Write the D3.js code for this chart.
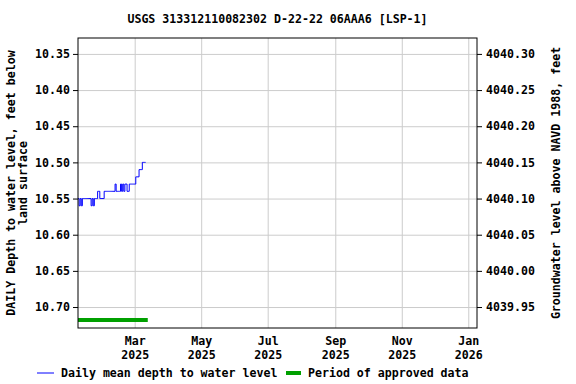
<!DOCTYPE html>
<html>
<head>
<meta charset="utf-8">
<script src="https://cdn.jsdelivr.net/npm/d3@7"></script>
<style>
  body { margin: 0; background: #fff; }
  text { font-family: "DejaVu Sans Mono", monospace; font-weight: bold; font-size: 11.6px; fill: #000; }
  .grid line { stroke: #cccccc; stroke-width: 1; }
  .grid path { display: none; }
</style>
</head>
<body>
<script>
const title = 'USGS 313312110082302 D-22-22 06AAA6 [LSP-1]'

// daily mean depth to water, ft below land surface, starting 2025-01-08
const startDate = '2025-01-08'
const depth = [
  10.55, 10.56, 10.55, 10.56, 10.55, 10.55, 10.55, 10.55, 10.55, 10.55,
  10.55, 10.55, 10.56, 10.55, 10.56, 10.55, 10.55, 10.55, 10.54, 10.54,
  10.55, 10.55, 10.55, 10.55, 10.54, 10.54, 10.54, 10.54, 10.54, 10.54,
  10.54, 10.54, 10.54, 10.54, 10.53, 10.54, 10.54, 10.54, 10.54, 10.53,
  10.54, 10.53, 10.54, 10.53, 10.53, 10.54, 10.54, 10.53, 10.53, 10.53,
  10.53, 10.53, 10.53, 10.52, 10.52, 10.52, 10.51, 10.51, 10.51, 10.50,
  10.50, 10.50, 10.50
]
const approved = ['2025-01-08', '2025-03-13']

const yTicks = [10.35, 10.40, 10.45, 10.50, 10.55, 10.60, 10.65, 10.70]
const datum = 4050.65
const xTicks = ['2025-03-01', '2025-05-01', '2025-07-01', '2025-09-01', '2025-11-01', '2026-01-01']

const margin = { top: 38, right: 99, bottom: 56, left: 78 }
const W = 576, H = 384
const width = W - margin.left - margin.right
const height = H - margin.top - margin.bottom

const parse = d3.utcParse('%Y-%m-%d')
const t0 = parse(startDate)
const data = depth.map((v, i) => ({ date: d3.utcDay.offset(t0, i), value: v }))

const svg = d3.select('body').append('svg')
  .attr('width', W)
  .attr('height', H)

const g = svg.append('g')
  .attr('transform', `translate(${margin.left},${margin.top})`)

const x = d3.scaleUtc()
  .domain([parse('2025-01-08'), parse('2026-01-09')])
  .range([0, width])

const y = d3.scaleLinear()
  .domain([10.328, 10.729])
  .range([0, height])

// grid
g.append('g').attr('class', 'grid')
  .call(d3.axisBottom(x).tickValues(xTicks.map(parse)).tickSize(height).tickFormat(''))
g.append('g').attr('class', 'grid')
  .call(d3.axisLeft(y).tickValues(yTicks).tickSize(-width).tickFormat(''))

// left axis
const yAxis = g.append('g')
  .call(d3.axisLeft(y).tickValues(yTicks).tickSize(5).tickFormat(d3.format('.2f')))
yAxis.select('.domain').remove()
yAxis.selectAll('text').attr('x', -8)

// right axis
const yRight = g.append('g')
  .attr('transform', `translate(${width},0)`)
  .call(d3.axisRight(y).tickValues(yTicks).tickSize(5).tickFormat(d => (datum - d).toFixed(2)))
yRight.select('.domain').remove()
yRight.selectAll('text').attr('x', 9)

// bottom axis
const xAxis = g.append('g')
  .attr('transform', `translate(0,${height})`)
  .call(d3.axisBottom(x).tickValues(xTicks.map(parse)).tickSize(0).tickFormat(''))
xAxis.select('.domain').remove()
xAxis.selectAll('.tick').each(function (d) {
  const t = d3.select(this).append('text').attr('text-anchor', 'middle')
  t.append('tspan').attr('x', 0).attr('y', 17).text(d3.utcFormat('%b')(d))
  t.append('tspan').attr('x', 0).attr('y', 31).text(d3.utcFormat('%Y')(d))
})

// approved period bar
g.append('line')
  .attr('x1', x(parse(approved[0])))
  .attr('x2', x(parse(approved[1])))
  .attr('y1', height - 8)
  .attr('y2', height - 8)
  .attr('stroke', '#00a000')
  .attr('stroke-width', 4)

// data line
g.append('path')
  .datum(data)
  .attr('fill', 'none')
  .attr('stroke', '#0000ff')
  .attr('stroke-width', 1)
  .attr('d', d3.line().curve(d3.curveStepAfter).x(d => x(d.date)).y(d => y(d.value)))

// frame
g.append('rect')
  .attr('width', width)
  .attr('height', height)
  .attr('fill', 'none')
  .attr('stroke', '#000')

// title
svg.append('text')
  .attr('x', margin.left + width / 2)
  .attr('y', 23)
  .attr('text-anchor', 'middle')
  .text(title)

// axis titles
const ly = margin.top + height / 2
svg.append('text')
  .attr('transform', `translate(15,${ly}) rotate(-90)`)
  .attr('text-anchor', 'middle')
  .text('DAILY Depth to water level, feet below')
svg.append('text')
  .attr('transform', `translate(27,${ly}) rotate(-90)`)
  .attr('text-anchor', 'middle')
  .text('land surface')
svg.append('text')
  .attr('transform', `translate(560,${ly}) rotate(-90)`)
  .attr('text-anchor', 'middle')
  .text('Groundwater level above NAVD 1988, feet')

// legend
const leg = svg.append('g').attr('transform', 'translate(0,373)')
leg.append('line').attr('x1', 37).attr('x2', 54).attr('y1', 0).attr('y2', 0)
  .attr('stroke', '#0000ff').attr('stroke-width', 1)
leg.append('text').attr('x', 61).attr('y', 4).text('Daily mean depth to water level')
leg.append('line').attr('x1', 286).attr('x2', 301).attr('y1', 0).attr('y2', 0)
  .attr('stroke', '#00a000').attr('stroke-width', 4)
leg.append('text').attr('x', 308).attr('y', 4).text('Period of approved data')
</script>
</body>
</html>
